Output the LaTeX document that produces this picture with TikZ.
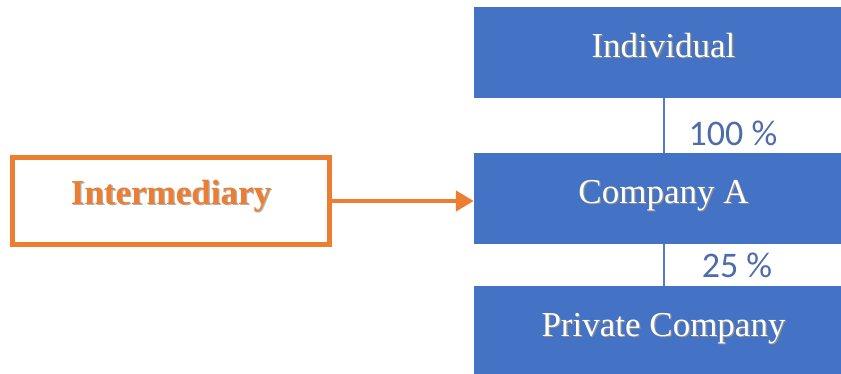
\documentclass[tikz,border=0pt]{standalone}
\usepackage{fontspec}
\setmainfont{Liberation Serif}
\newfontfamily\pctfont{Carlito}
\usetikzlibrary{arrows.meta}
\definecolor{boxblue}{HTML}{4472C4}
\definecolor{linkblue}{HTML}{5479C6}
\definecolor{pctblue}{HTML}{4C6CAC}
\definecolor{accent}{HTML}{ED7D31}
% text with a soft drop shadow
\newcommand{\shadowed}[2]{\makebox[0pt][l]{\hspace{1.3pt}\raisebox{-1.3pt}{\color{#1}#2}}#2}
\tikzset{
  entity/.style={fill=boxblue, draw=none, minimum width=379pt, minimum height=91pt,
    inner sep=0pt, text depth=14pt, text=white, font=\fontsize{35}{40}\selectfont},
  share/.style={text=pctblue, font=\pctfont\fontsize{36}{40}\selectfont, inner sep=0pt},
  link/.style={draw=linkblue, line width=2pt},
  agent/.style={draw=accent, line width=5pt, fill=white, minimum width=317pt,
    minimum height=87pt, inner sep=0pt, text depth=18pt, text=accent,
    font=\bfseries\fontsize{35}{40}\selectfont},
  feed/.style={draw=accent, line width=4.5pt, -{Triangle[length=18pt,width=20pt]}}
}
\begin{document}
\begin{tikzpicture}[x=1pt, y=-1pt]
\useasboundingbox (0,0) rectangle (841,374);
\clip (0,0) rectangle (841,374);
\node[entity] (ind) at (663.5,52.5) {\shadowed{black!45}{Individual}};
\node[entity] (coa) at (663.5,198.5) {\shadowed{black!45}{Company A}};
\node[entity] (prv) at (663.5,331.5) {\shadowed{black!45}{Private Company}};
\draw[link] (ind.south) -- (coa.north);
\draw[link] (coa.south) -- (prv.north);
\node[share] (p100) at (733,133) {100 \%};
\node[share] (p25) at (737,265) {25 \%};
\node[agent] (mid) at (171,201) {\shadowed{black!30}{Intermediary}};
\draw[feed] (mid.east) -- (mid.east -| coa.west);
\end{tikzpicture}
\end{document}
